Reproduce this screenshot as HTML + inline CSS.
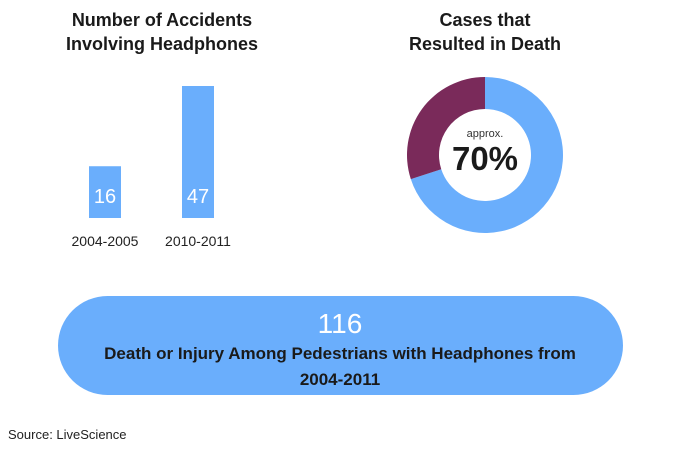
<!DOCTYPE html>
<html><head><meta charset="utf-8"><style>
body{margin:0;background:#fff;}
svg text{font-family:"Liberation Sans",sans-serif;}
</style></head><body>
<svg width="680" height="445" viewBox="0 0 680 445">
<text x="162" y="26" text-anchor="middle" font-size="18" font-weight="bold" fill="#1a1a1a">Number of Accidents</text>
<text x="162" y="50" text-anchor="middle" font-size="18" font-weight="bold" fill="#1a1a1a">Involving Headphones</text>
<g id="bars"></g>
<text x="485" y="26" text-anchor="middle" font-size="18" font-weight="bold" fill="#1a1a1a">Cases that</text>
<text x="485" y="50" text-anchor="middle" font-size="18" font-weight="bold" fill="#1a1a1a">Resulted in Death</text>
<g id="donut"></g>
<text x="485" y="137" text-anchor="middle" font-size="11" fill="#333">approx.</text>
<text x="485" y="170" text-anchor="middle" font-size="33" font-weight="bold" fill="#1a1a1a">70%</text>
<rect x="58" y="296" width="565" height="99" rx="49.5" fill="#6aaefc"/>
<text x="340" y="333" text-anchor="middle" font-size="28" fill="#fff">116</text>
<text x="340" y="359" text-anchor="middle" font-size="17" font-weight="bold" fill="#1a1a1a">Death or Injury Among Pedestrians with Headphones from</text>
<text x="340" y="385" text-anchor="middle" font-size="17" font-weight="bold" fill="#1a1a1a">2004-2011</text>
<text x="8" y="439" font-size="13" fill="#222">Source: LiveScience</text>
</svg>
<script>
const categories=["2004-2005","2010-2011"];
const values=[16,47];
const deathShare=[70,30];
const NS="http://www.w3.org/2000/svg";
const base=218,xs=[105,198],bw=32;
function y(v){return base-(v+4)*132/51;}
const g=document.getElementById('bars');
categories.forEach((c,i)=>{
 const r=document.createElementNS(NS,'rect');
 r.setAttribute('x',xs[i]-bw/2);r.setAttribute('y',y(values[i]));
 r.setAttribute('width',bw);r.setAttribute('height',base-y(values[i]));
 r.setAttribute('fill','#6aaefc');
 
 
 g.appendChild(r);
 const t=document.createElementNS(NS,'text');
 t.setAttribute('x',xs[i]);t.setAttribute('y',203);t.setAttribute('text-anchor','middle');
 t.setAttribute('font-size','20');t.setAttribute('fill','#fff');t.textContent=values[i];
 
 
 g.appendChild(t);
 const l=document.createElementNS(NS,'text');
 l.setAttribute('x',xs[i]);l.setAttribute('y',246);l.setAttribute('text-anchor','middle');
 l.setAttribute('font-size','14');l.setAttribute('fill','#222');l.textContent=c;
 
 
 g.appendChild(l);
});
const cx=485,cy=155,R=78,r0=46;
const d=document.getElementById('donut');
const cols=['#6aaefc','#7a2a5a'];
let a=0;const tot=deathShare[0]+deathShare[1];
deathShare.forEach((v,i)=>{
 const a1=a+v/tot*2*Math.PI;
 const p=(ang,rad)=>[cx+rad*Math.sin(ang),cy-rad*Math.cos(ang)];
 const [x1,y1]=p(a,R),[x2,y2]=p(a1,R),[x3,y3]=p(a1,r0),[x4,y4]=p(a,r0);
 const lg=(a1-a)>Math.PI?1:0;
 const path=document.createElementNS(NS,'path');
 path.setAttribute('d',`M${x1},${y1}A${R},${R} 0 ${lg} 1 ${x2},${y2}L${x3},${y3}A${r0},${r0} 0 ${lg} 0 ${x4},${y4}Z`);
 path.setAttribute('fill',cols[i]);
 
 
 d.appendChild(path);
 a=a1;
});
</script>
</body></html>
